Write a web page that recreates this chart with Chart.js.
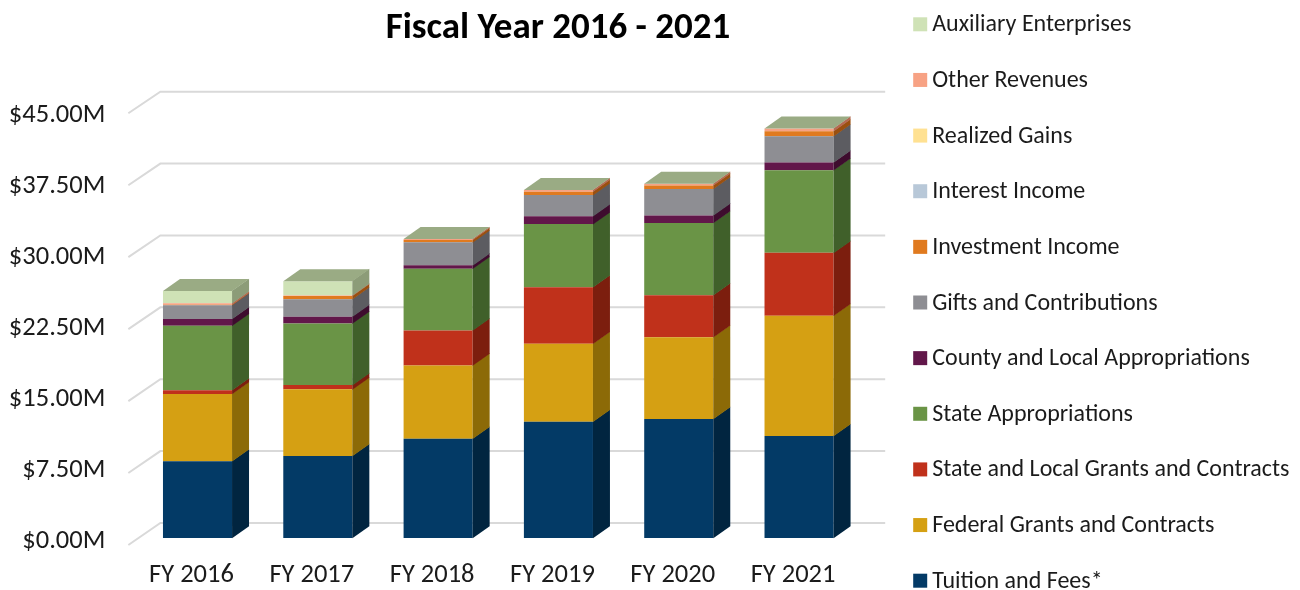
<!DOCTYPE html>
<html>
<head>
<meta charset="utf-8">
<script src="https://cdn.jsdelivr.net/npm/chart.js@4"></script>
<style>
html, body { margin: 0; padding: 0; background: #fff; }
</style>
</head>
<body>
<canvas id="barChart" width="1300" height="590"></canvas>
<script>
let years = ['FY 2016', 'FY 2017', 'FY 2018', 'FY 2019', 'FY 2020', 'FY 2021'];
let yTicks = [0, 7.5, 15, 22.5, 30, 37.5, 45];

// millions of dollars, bottom of the stack first
let tuition = [8.10, 8.66, 10.49, 12.28, 12.57, 10.77];
let federalGrants = [7.11, 7.04, 7.74, 8.24, 8.63, 12.70];
let stateLocalGrants = [0.39, 0.45, 3.70, 5.96, 4.44, 6.65];
let stateApprop = [6.83, 6.52, 6.52, 6.68, 7.63, 8.73];
let countyApprop = [0.71, 0.71, 0.35, 0.84, 0.81, 0.81];
let gifts = [1.45, 1.84, 2.43, 2.22, 2.78, 2.78];
let investmentIncome = [0.05, 0.35, 0.25, 0.35, 0.37, 0.53];
let interestIncome = [0, 0, 0, 0, 0, 0];
let realizedGains = [0, 0, 0, 0, 0, 0];
let otherRevenues = [0.15, 0.05, 0.10, 0.18, 0.19, 0.29];
let auxiliary = [1.30, 1.51, 0, 0, 0, 0];

let seriesNames = [
    'Tuition and Fees*',
    'Federal Grants and Contracts',
    'State and Local Grants and Contracts',
    'State Appropriations',
    'County and Local Appropriations',
    'Gifts and Contributions',
    'Investment Income',
    'Interest Income',
    'Realized Gains',
    'Other Revenues',
    'Auxiliary Enterprises'
];
let seriesValues = [tuition, federalGrants, stateLocalGrants, stateApprop, countyApprop,
    gifts, investmentIncome, interestIncome, realizedGains, otherRevenues, auxiliary];

let colors = ['#033A66', '#D5A013', '#C0311B', '#6A9446', '#62174A', '#8E8E93',
    '#E07A1F', '#B8C8D8', '#FFE192', '#F7A284', '#CFE2B6'];
let sideColors = ['#012540', '#8C6A07', '#7C1E0E', '#40602A', '#3E0C2E', '#5C5C61',
    '#9A5010', '#7E8C9A', '#B09A5A', '#B56A52', '#8C9C78'];
let topColor = '#9AAB84';

let fontFamily = 'Carlito, Calibri, Lato, sans-serif';
let textColor = '#1b1b1b';

// fake 3d depth of the bars
const DX = 17, DY = -12;

let depthPlugin = {
    id: 'depth',
    beforeDatasetsDraw(chart) {
        let ctx = chart.ctx, y = chart.scales.y, area = chart.chartArea;
        ctx.save();
        ctx.strokeStyle = '#d9d9d9';
        ctx.lineWidth = 2;
        yTicks.forEach(v => {
            let py = y.getPixelForValue(v);
            let up = area.bottom - py;
            let back = py - 15 - up * 0.0125;
            let front = py + 7 - up * 0.0134;
            ctx.beginPath();
            ctx.moveTo(area.left - 9, front);
            ctx.lineTo(area.left + 23, back);
            ctx.lineTo(area.right + 26, back);
            ctx.stroke();
        });
        ctx.restore();
    },
    afterDatasetsDraw(chart) {
        let ctx = chart.ctx;
        ctx.save();
        chart.data.datasets.forEach((ds, i) => {
            chart.getDatasetMeta(i).data.forEach(bar => {
                let p = bar.getProps(['x', 'y', 'base', 'width'], true);
                if (p.base - p.y < 0.01) return;
                let r = p.x + p.width / 2;
                ctx.fillStyle = sideColors[i];
                ctx.beginPath();
                ctx.moveTo(r, p.y - 0.3);
                ctx.lineTo(r + DX, p.y + DY - 0.3);
                ctx.lineTo(r + DX, p.base + DY + 0.3);
                ctx.lineTo(r, p.base + 0.3);
                ctx.closePath();
                ctx.fill();
            });
        });
        // top face sits on the last series of each stack
        let last = chart.getDatasetMeta(chart.data.datasets.length - 1);
        last.data.forEach(bar => {
            let p = bar.getProps(['x', 'y', 'width'], true);
            let l = p.x - p.width / 2, r = p.x + p.width / 2;
            ctx.fillStyle = topColor;
            ctx.beginPath();
            ctx.moveTo(l, p.y);
            ctx.lineTo(l + DX, p.y + DY);
            ctx.lineTo(r + DX, p.y + DY);
            ctx.lineTo(r, p.y);
            ctx.closePath();
            ctx.fill();
        });
        ctx.restore();
    }
};

// legend on the right, top series first
let legendPlugin = {
    id: 'sideLegend',
    afterDraw(chart) {
        let ctx = chart.ctx;
        let x0 = chart.chartArea.right + 54;
        ctx.save();
        ctx.font = '24px ' + fontFamily;
        ctx.textBaseline = 'middle';
        let n = seriesNames.length;
        for (let k = 0; k < n; k++) {
            let i = n - 1 - k;
            let cy = 24.3 + k * 55.64;
            ctx.fillStyle = colors[i];
            ctx.fillRect(x0, cy - 7, 14, 14);
            ctx.fillStyle = textColor;
            ctx.fillText(seriesNames[i], x0 + 19, cy + 1);
        }
        ctx.restore();
    }
};

let ctx = document.getElementById('barChart').getContext('2d');

let barChart = new Chart(ctx, {
    type: 'bar',
    data: {
        labels: years,
        datasets: seriesNames.map((name, i) => ({
            label: name,
            data: seriesValues[i],
            backgroundColor: colors[i],
            borderWidth: 0,
            barPercentage: 0.574,
            categoryPercentage: 1
        }))
    },
    options: {
        responsive: false,
        animation: false,
        layout: { padding: { left: 0, right: 184, top: 0, bottom: 0 } },
        plugins: {
            legend: { display: false },
            tooltip: { enabled: false },
            title: {
                display: true,
                text: 'Fiscal Year 2016 - 2021',
                color: '#000',
                font: { family: fontFamily, size: 37, weight: 'bold' },
                padding: { top: 7, bottom: 60.6 }
            }
        },
        scales: {
            x: {
                stacked: true,
                grid: { display: false, drawTicks: false },
                border: { display: false },
                ticks: { color: textColor, font: { family: fontFamily, size: 26.5 }, padding: 21, labelOffset: -6 },
                afterFit(s) { s.height = 52; }
            },
            y: {
                stacked: true,
                min: 0,
                max: 45,
                afterBuildTicks(s) { s.ticks = yTicks.map(v => ({ value: v })); },
                grid: { display: false, drawTicks: false },
                border: { display: false },
                ticks: {
                    color: textColor,
                    font: { family: fontFamily, size: 26.5 },
                    padding: 32,
                    labelOffset: 3,
                    callback: v => '$' + v.toFixed(2) + 'M'
                },
                afterFit(s) { s.width = 137.35; }
            },
            side: {
                type: 'linear',
                position: 'right',
                grid: { display: false, drawTicks: false },
                border: { display: false },
                ticks: { display: false },
                afterFit(s) { s.width = 256.8; }
            }
        }
    },
    plugins: [depthPlugin, legendPlugin]
});
</script>
</body>
</html>
